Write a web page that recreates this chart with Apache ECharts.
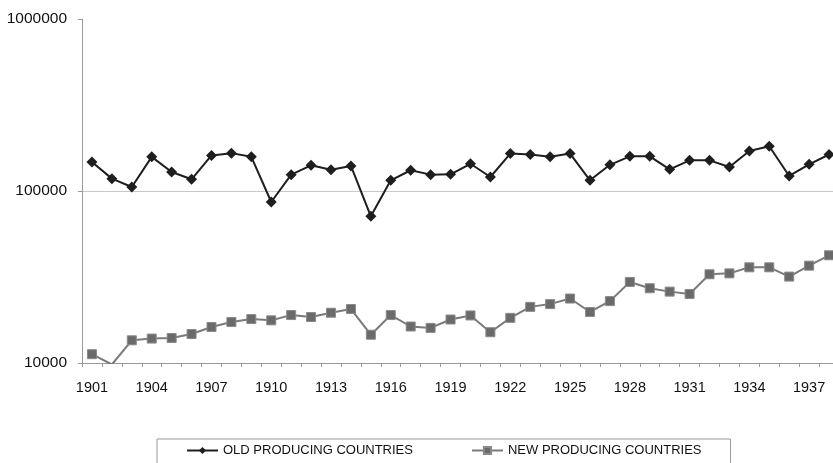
<!DOCTYPE html>
<html>
<head>
<meta charset="utf-8">
<script src="https://cdn.jsdelivr.net/npm/echarts@6/dist/echarts.min.js"></script>
<style>
  html, body { margin: 0; padding: 0; background: #fff; }
  #chart { width: 833px; height: 463px; }
</style>
</head>
<body>
<div id="chart"></div>
<script>
// Years on the horizontal axis
var years = [];
for (var y = 1901; y <= 1938; y++) years.push(String(y));

// Output of the old producing countries (log scale)
var oldProducing = [
  147500, 118000, 105500, 158000, 129000, 117000, 161000, 166000, 158000, 86300,
  124500, 141000, 133000, 139800, 71300, 115400, 132000, 124500, 125000, 144000,
  120600, 165000, 163000, 158000, 165000, 115400, 142000, 159000, 159000, 133700,
  150700, 150700, 138000, 171000, 182000, 122300, 143000, 163000
];

// Output of the new producing countries
var newProducing = [
  11250, 9800, 13550, 13870, 13970, 14740, 16200, 17300, 18000, 17700,
  19000, 18500, 19600, 20600, 14600, 19000, 16300, 16000, 17900, 18900,
  15100, 18300, 21200, 22000, 23700, 19800, 22900, 29600, 27200, 26000,
  25200, 32800, 33200, 36000, 36000, 31800, 36800, 42300
];

var seriesNames = ['OLD PRODUCING COUNTRIES', 'NEW PRODUCING COUNTRIES'];
var yTicks = [10000, 100000, 1000000];

var font = 'Liberation Sans, Arial, sans-serif';
var chart = echarts.init(document.getElementById('chart'));

chart.setOption({
  animation: false,
  backgroundColor: '#fff',
  textStyle: { fontFamily: font },
  // plot area runs slightly past the right edge of the canvas
  grid: {
    left: 82, top: 19, bottom: 100, width: 757,
    containLabel: false, outerBoundsMode: 'none'
  },
  legend: {
    data: seriesNames,
    left: 157,
    top: 439,
    padding: [5, 29, 25, 29],
    itemGap: 58,
    itemWidth: 31,
    itemHeight: 9,
    borderColor: '#9a9a9a',
    borderWidth: 1,
    textStyle: { fontFamily: font, fontSize: 13, color: '#111' }
  },
  xAxis: {
    type: 'category',
    data: years,
    boundaryGap: true,
    axisLine: { lineStyle: { color: '#999', width: 1 } },
    axisTick: { show: true, interval: 0, length: 4, lineStyle: { color: '#999' } },
    axisLabel: { interval: 2, fontSize: 14.5, color: '#111', margin: 17, fontFamily: font },
    splitLine: { show: false }
  },
  yAxis: {
    type: 'log',
    logBase: 10,
    min: yTicks[0],
    max: yTicks[yTicks.length - 1],
    axisLine: { show: true, lineStyle: { color: '#999', width: 1 } },
    axisTick: { show: true, length: 4, lineStyle: { color: '#999' } },
    axisLabel: {
      fontSize: 15.5, color: '#111', margin: 15, fontFamily: font,
      formatter: function (v) { return String(Math.round(v)); }
    },
    splitLine: {
      show: true,
      lineStyle: { color: ['#c8c8c8', '#c8c8c8', 'rgba(0,0,0,0)'], width: 1 }
    }
  },
  series: [
    {
      name: seriesNames[0],
      type: 'line',
      data: oldProducing,
      symbol: 'diamond',
      symbolSize: 11,
      lineStyle: { color: '#1e1e1e', width: 2 },
      itemStyle: { color: '#1e1e1e' }
    },
    {
      name: seriesNames[1],
      type: 'line',
      data: newProducing,
      symbol: 'rect',
      symbolSize: 9,
      lineStyle: { color: '#7a7a7a', width: 2 },
      itemStyle: { color: '#6a6a6a', borderColor: '#8a8a8a', borderWidth: 1 }
    }
  ]
});
</script>
</body>
</html>
